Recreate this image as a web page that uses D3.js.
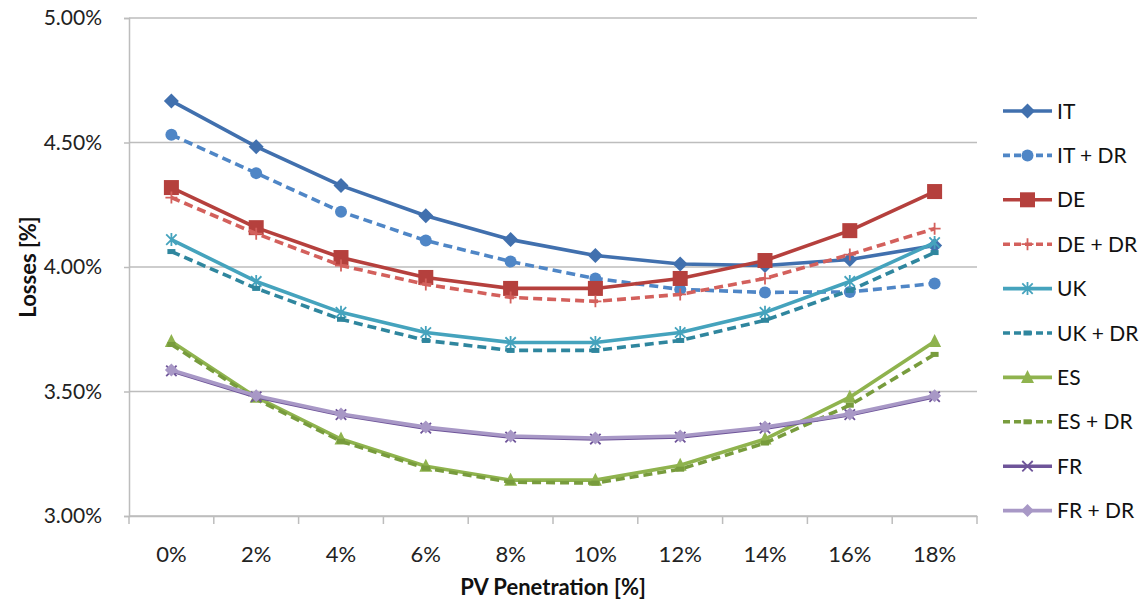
<!DOCTYPE html>
<html><head><meta charset="utf-8">
<script src="https://cdn.jsdelivr.net/npm/d3@7"></script>
<style>
html,body{margin:0;padding:0;background:#fff;}
svg{display:block;font-family:Lato,"Open Sans",sans-serif;}
</style></head>
<body><svg id="c" width="1142" height="602"></svg>
<script>
const categories = ["0%","2%","4%","6%","8%","10%","12%","14%","16%","18%"];
const yTicks = [3.0,3.5,4.0,4.5,5.0];
const seriesNames = ["IT","IT + DR","DE","DE + DR","UK","UK + DR","ES","ES + DR","FR","FR + DR"];
const IT     = [4.667,4.483,4.327,4.206,4.110,4.046,4.012,4.006,4.030,4.086];
const IT_DR  = [4.531,4.377,4.222,4.106,4.022,3.954,3.910,3.898,3.900,3.934];
const DE     = [4.319,4.158,4.038,3.958,3.914,3.914,3.954,4.026,4.146,4.303];
const DE_DR  = [4.279,4.134,4.006,3.930,3.878,3.862,3.890,3.954,4.050,4.154];
const UK     = [4.110,3.942,3.818,3.737,3.697,3.697,3.737,3.818,3.942,4.098];
const UK_DR  = [4.062,3.914,3.790,3.705,3.665,3.665,3.705,3.786,3.906,4.058];
const ES     = [3.701,3.477,3.309,3.200,3.144,3.144,3.204,3.309,3.477,3.701];
const ES_DR  = [3.689,3.469,3.300,3.192,3.136,3.132,3.188,3.293,3.445,3.649];
const FR     = [3.583,3.479,3.407,3.353,3.317,3.309,3.317,3.353,3.407,3.479];
const FR_DR  = [3.586,3.483,3.410,3.357,3.321,3.313,3.321,3.357,3.410,3.483];
const values = [IT,IT_DR,DE,DE_DR,UK,UK_DR,ES,ES_DR,FR,FR_DR];

const styles = [
  {color:"#4170ae", dash:null,  marker:"diamond", ms:15},
  {color:"#4f86c6", dash:"9,5", marker:"circle",  ms:12},
  {color:"#b5403d", dash:null,  marker:"square",  ms:15},
  {color:"#d3605c", dash:"9,5", marker:"plus",    ms:12},
  {color:"#45a3bd", dash:null,  marker:"star",    ms:13},
  {color:"#2f869e", dash:"9,5", marker:"dash",    ms:8},
  {color:"#8fb34e", dash:null,  marker:"triangle",ms:13},
  {color:"#789c3d", dash:"9,5", marker:"dash",    ms:8},
  {color:"#6e5499", dash:null,  marker:"x",       ms:13},
  {color:"#a898c6", dash:null,  marker:"diamond", ms:13}
];

const svg = d3.select("#c");
const L = 129, R = 977, T = 18, B = 516;
const x = d3.scaleBand().domain(categories).range([L,R]);
const y = d3.scaleLinear().domain([3.0,5.0]).range([B,T]);

// gridlines
svg.append("g").selectAll("line").data(yTicks).join("line")
  .attr("x1",L).attr("x2",R).attr("y1",d=>y(d)).attr("y2",d=>y(d))
  .attr("stroke","#bdbdbd").attr("stroke-width",1.5);

// y axis
const ya = svg.append("g").attr("transform",`translate(${L},0)`)
  .call(d3.axisLeft(y).tickValues(yTicks).tickSize(5).tickPadding(22).tickFormat(d=>d.toFixed(2)+"%"));
ya.select(".domain").attr("stroke","#bdbdbd").attr("stroke-width",1.5);
ya.selectAll(".tick line").attr("stroke","#bdbdbd").attr("stroke-width",1.5);
ya.selectAll("text").attr("font-size",21).attr("fill","#222").attr("font-family","Lato,'Open Sans',sans-serif");

// x axis
const xa = svg.append("g").attr("transform",`translate(0,${B})`)
  .call(d3.axisBottom(x).tickSizeOuter(0).tickSize(0).tickPadding(30));
xa.select(".domain").attr("stroke","#bdbdbd").attr("stroke-width",1.5);
xa.selectAll("text").attr("font-size",22).attr("fill","#222").attr("font-family","Lato,'Open Sans',sans-serif");
// x ticks at band boundaries
const bounds = categories.map(c=>x(c)).concat([x(categories[categories.length-1])+x.bandwidth()]);
svg.append("g").selectAll("line").data(bounds).join("line")
  .attr("x1",d=>d).attr("x2",d=>d).attr("y1",B).attr("y2",B+8)
  .attr("stroke","#bdbdbd").attr("stroke-width",1.5);

// axis titles
svg.append("text").attr("transform",`translate(36,${(T+B)/2}) rotate(-90)`)
  .attr("text-anchor","middle").attr("font-weight","bold").attr("font-size",22).attr("fill","#111")
  .text("Losses [%]");
svg.append("text").attr("x",(L+R)/2).attr("y",595)
  .attr("text-anchor","middle").attr("font-weight","bold").attr("font-size",22).attr("fill","#111")
  .text("PV Penetration [%]");

function drawMarker(g, type, cx, cy, color, s){
  const h = s/2;
  if(type==="diamond"){
    g.append("path").attr("d",`M${cx},${cy-h}L${cx+h},${cy}L${cx},${cy+h}L${cx-h},${cy}Z`).attr("fill",color);
  } else if(type==="circle"){
    g.append("circle").attr("cx",cx).attr("cy",cy).attr("r",h).attr("fill",color);
  } else if(type==="square"){
    g.append("rect").attr("x",cx-h).attr("y",cy-h).attr("width",s).attr("height",s).attr("fill",color);
  } else if(type==="triangle"){
    g.append("path").attr("d",`M${cx},${cy-h-1}L${cx+h},${cy+h-1}L${cx-h},${cy+h-1}Z`).attr("fill",color);
  } else if(type==="plus"){
    g.append("path").attr("d",`M${cx-h},${cy}H${cx+h}M${cx},${cy-h}V${cy+h}`).attr("stroke",color).attr("stroke-width",1.8);
  } else if(type==="star"){
    const d = h*0.8;
    g.append("path").attr("d",`M${cx-d},${cy-d}L${cx+d},${cy+d}M${cx+d},${cy-d}L${cx-d},${cy+d}M${cx},${cy-h}V${cy+h}`).attr("stroke",color).attr("stroke-width",1.8);
  } else if(type==="dash"){
    g.append("rect").attr("x",cx-h).attr("y",cy-2.5).attr("width",s).attr("height",5).attr("fill",color);
  } else if(type==="x"){
    const d = h*0.8;
    g.append("path").attr("d",`M${cx-d},${cy-d}L${cx+d},${cy+d}M${cx+d},${cy-d}L${cx-d},${cy+d}`).attr("stroke",color).attr("stroke-width",1.8);
  }
}

const line = d3.line().x((d,i)=>x(categories[i])+x.bandwidth()/2).y(d=>y(d));
const plot = svg.append("g");
values.forEach((vals,k)=>{
  const st = styles[k];
  const g = plot.append("g");
  g.append("path").attr("d",line(vals)).attr("fill","none").attr("stroke",st.color)
    .attr("stroke-width",3.6).attr("stroke-linejoin","round")
    .attr("stroke-dasharray",st.dash);
  vals.forEach((v,i)=>drawMarker(g, st.marker, x(categories[i])+x.bandwidth()/2, y(v), st.color, st.ms));
});

// legend
const lg = svg.append("g");
seriesNames.forEach((name,k)=>{
  const st = styles[k];
  const yy = 111 + k*44.4;
  const g = lg.append("g");
  g.append("line").attr("x1",1003).attr("x2",1052).attr("y1",yy).attr("y2",yy)
    .attr("stroke",st.color).attr("stroke-width",3.6).attr("stroke-dasharray",st.dash ? "7,4" : null);
  drawMarker(g, st.marker, 1027.5, yy, st.color, st.ms);
  g.append("text").attr("x",1057).attr("y",yy+7.5).attr("font-size",21).attr("fill","#111").text(name);
});
</script>
</body></html>
